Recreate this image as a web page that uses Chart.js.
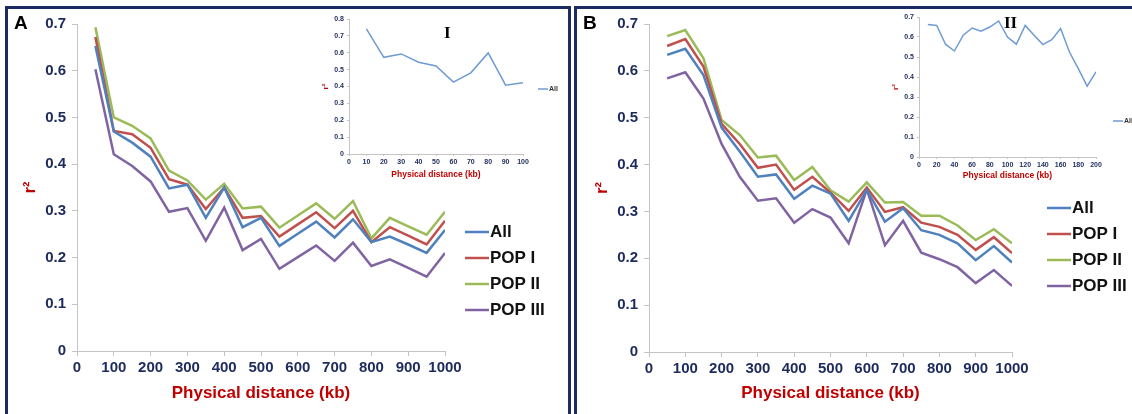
<!DOCTYPE html>
<html>
<head>
<meta charset="utf-8">
<script src="https://cdn.jsdelivr.net/npm/chart.js@4.4.1/dist/chart.umd.min.js"></script>
<style>
  body { margin: 0; background: #fff; }
  #wrap { position: relative; width: 1132px; height: 414px; overflow: hidden; background: #fff; }
  .box { position: absolute; }
  .frame { position: absolute; border: 3px solid #1d2b64; border-bottom: none; }
  .tag { position: absolute; font: bold 19px 'Liberation Sans', Arial, sans-serif; color: #000; line-height: 1; }
  .roman { position: absolute; font: bold 17px 'Liberation Serif', 'Times New Roman', serif; color: #000; line-height: 1; }
</style>
</head>
<body>
<div id="wrap">
  <div class="frame" style="left:5px;top:6px;width:560px;height:420px;"></div>
  <div class="frame" style="left:574px;top:6px;width:600px;height:420px;border-right:none;"></div>

  <div class="box" style="left:0;top:0;width:566px;height:414px;"><canvas id="mainA"></canvas></div>
  <div class="box" style="left:566px;top:0;width:566px;height:414px;"><canvas id="mainB"></canvas></div>
  <div class="box" style="left:300px;top:0;width:268px;height:190px;"><canvas id="insetA"></canvas></div>
  <div class="box" style="left:870px;top:0;width:262px;height:190px;"><canvas id="insetB"></canvas></div>

  <div class="tag" style="left:14px;top:13px;">A</div>
  <div class="tag" style="left:583px;top:13px;">B</div>
  <div class="roman" style="left:444px;top:24px;">I</div>
  <div class="roman" style="left:1004px;top:14px;">II</div>
</div>

<script>
Chart.defaults.font.family = "'Liberation Sans', Arial, sans-serif";
Chart.defaults.animation = false;

// distances (kb)
var distMain = [50, 100, 150, 200, 250, 300, 350, 400, 450, 500, 550, 600, 650, 700, 750, 800, 850, 900, 950, 1000];
var distI = [10, 20, 30, 40, 50, 60, 70, 80, 90, 100];
var distII = [10, 20, 30, 40, 50, 60, 70, 80, 90, 100, 110, 120, 130, 140, 150, 160, 170, 180, 190, 200];

// panel A, r2 values
var allA  = [0.653, 0.470, 0.446, 0.416, 0.348, 0.356, 0.285, 0.350, 0.265, 0.285, 0.225, 0.251, 0.277, 0.243, 0.282, 0.233, 0.245, 0.228, 0.210, 0.259];
var pop1A = [0.672, 0.471, 0.464, 0.435, 0.368, 0.356, 0.304, 0.350, 0.285, 0.289, 0.245, 0.271, 0.297, 0.263, 0.300, 0.233, 0.265, 0.247, 0.228, 0.279];
var pop2A = [0.693, 0.500, 0.482, 0.455, 0.386, 0.365, 0.324, 0.358, 0.305, 0.309, 0.264, 0.290, 0.316, 0.283, 0.321, 0.241, 0.285, 0.267, 0.249, 0.298];
var pop3A = [0.603, 0.421, 0.396, 0.363, 0.298, 0.306, 0.236, 0.307, 0.216, 0.240, 0.176, 0.201, 0.226, 0.193, 0.232, 0.182, 0.196, 0.178, 0.159, 0.210];

// panel B, r2 values
var allB  = [0.634, 0.647, 0.591, 0.479, 0.428, 0.374, 0.379, 0.327, 0.355, 0.338, 0.280, 0.346, 0.278, 0.307, 0.260, 0.250, 0.232, 0.196, 0.226, 0.191];
var pop1B = [0.653, 0.668, 0.609, 0.487, 0.444, 0.393, 0.400, 0.346, 0.374, 0.340, 0.301, 0.351, 0.299, 0.309, 0.276, 0.267, 0.250, 0.218, 0.245, 0.211];
var pop2B = [0.674, 0.687, 0.627, 0.495, 0.463, 0.415, 0.419, 0.367, 0.395, 0.345, 0.321, 0.362, 0.319, 0.320, 0.291, 0.291, 0.270, 0.239, 0.262, 0.232];
var pop3B = [0.584, 0.597, 0.541, 0.444, 0.374, 0.323, 0.328, 0.276, 0.305, 0.287, 0.232, 0.347, 0.228, 0.280, 0.212, 0.198, 0.181, 0.147, 0.175, 0.141];

// insets (All only)
var insetI  = [0.741, 0.573, 0.593, 0.544, 0.522, 0.426, 0.481, 0.599, 0.408, 0.422];
var insetII = [0.663, 0.658, 0.564, 0.530, 0.609, 0.645, 0.629, 0.650, 0.680, 0.600, 0.564, 0.658, 0.609, 0.562, 0.587, 0.642, 0.525, 0.442, 0.354, 0.426];

var names = ['All', 'POP I', 'POP II', 'POP III'];
var colors = ['#4f81bd', '#c0504d', '#9bbb59', '#8064a2'];

var tickColor = '#1c2a5c';
var titleColor = '#c00000';
var axisColor = '#c4c4c4';

function pts(xs, ys) {
  return xs.map(function (x, i) { return { x: x, y: ys[i] }; });
}

// legend drawn beside the plot, one row per dataset
var sideLegend = {
  id: 'sideLegend',
  afterDraw: function (chart, args, o) {
    var ctx = chart.ctx;
    ctx.save();
    ctx.font = o.font;
    ctx.textBaseline = 'middle';
    chart.data.datasets.forEach(function (ds, i) {
      var y = o.y + i * o.gap;
      ctx.strokeStyle = ds.borderColor;
      ctx.lineWidth = o.lineWidth;
      ctx.beginPath();
      ctx.moveTo(o.x, y);
      ctx.lineTo(o.x + o.len, y);
      ctx.stroke();
      ctx.fillStyle = o.color;
      ctx.fillText(ds.label, o.x + o.len + 1, y);
    });
    ctx.restore();
  }
};

function axes(cfg) {
  return {
    x: {
      type: 'linear', min: 0, max: cfg.xmax,
      ticks: { stepSize: cfg.xstep, color: tickColor, font: { size: cfg.tick, weight: 'bold' }, padding: cfg.tpad,
               maxRotation: 0, autoSkip: false, callback: function (v) { return String(v); } },
      grid: { drawOnChartArea: false, color: axisColor, tickLength: cfg.tlen },
      border: { color: axisColor, width: 1 },
      title: { display: true, text: 'Physical distance (kb)', color: titleColor, font: { size: cfg.xt, weight: 'bold' } },
      afterFit: function (s) { s.height = cfg.xh; }
    },
    y: {
      min: 0, max: cfg.ymax,
      ticks: { stepSize: 0.1, color: tickColor, font: { size: cfg.tick, weight: 'bold' }, padding: cfg.ypad },
      grid: { drawOnChartArea: false, color: axisColor, tickLength: cfg.tlen },
      border: { color: axisColor, width: 1 },
      title: { display: true, text: 'r²', color: titleColor, font: { size: cfg.yt, weight: 'bold' } },
      afterFit: function (s) { s.width = cfg.yw; }
    }
  };
}

function mainChart(id, series, pad, xh, leg) {
  new Chart(document.getElementById(id), {
    type: 'line',
    data: {
      datasets: series.map(function (s, i) {
        return { label: names[i], data: pts(distMain, s), borderColor: colors[i], backgroundColor: colors[i],
                 borderWidth: 2.5, pointRadius: 0, tension: 0, fill: false };
      })
    },
    options: {
      responsive: true, maintainAspectRatio: false,
      layout: { padding: pad },
      plugins: { legend: { display: false }, tooltip: { enabled: false },
                 sideLegend: { x: leg.x, y: leg.y, gap: 26, len: 24, lineWidth: 2.5, font: 'bold 17px "Liberation Sans", Arial, sans-serif', color: '#111' } },
      scales: axes({ xmax: 1000, xstep: 100, ymax: 0.7, tick: 15, tpad: 3, ypad: 6, tlen: 5, xt: 17, yt: 16, xh: xh, yw: 60 })
    },
    plugins: [sideLegend]
  });
}

function insetChart(id, xs, ys, xmax, xstep, ymax, pad, xh, leg) {
  new Chart(document.getElementById(id), {
    type: 'line',
    data: { datasets: [{ label: 'All', data: pts(xs, ys), borderColor: '#6f9bd3', borderWidth: 1.5, pointRadius: 0, tension: 0, fill: false }] },
    options: {
      responsive: true, maintainAspectRatio: false,
      layout: { padding: pad },
      plugins: { legend: { display: false }, tooltip: { enabled: false },
                 sideLegend: { x: leg.x, y: leg.y, gap: 0, len: 10, lineWidth: 1.5, font: 'bold 7px "Liberation Sans", Arial, sans-serif', color: '#333' } },
      scales: axes({ xmax: xmax, xstep: xstep, ymax: ymax, tick: 7, tpad: 2, ypad: 3, tlen: 2, xt: 8.5, yt: 8, xh: xh, yw: 32 })
    },
    plugins: [sideLegend]
  });
}

mainChart('mainA', [allA, pop1A, pop2A, pop3A], { left: 17, top: 24, right: 121, bottom: 6 }, 57, { x: 465, y: 232 });
mainChart('mainB', [allB, pop1B, pop2B, pop3B], { left: 23, top: 24, right: 120, bottom: 6 }, 56, { x: 481, y: 208 });
insetChart('insetA', distI, insetI, 100, 10, 0.8, { left: 17, top: 19, right: 45, bottom: 6 }, 30, { x: 238, y: 89 });
insetChart('insetB', distII, insetII, 200, 20, 0.7, { left: 17, top: 17, right: 36, bottom: 5 }, 28, { x: 243, y: 121 });
</script>
</body>
</html>
